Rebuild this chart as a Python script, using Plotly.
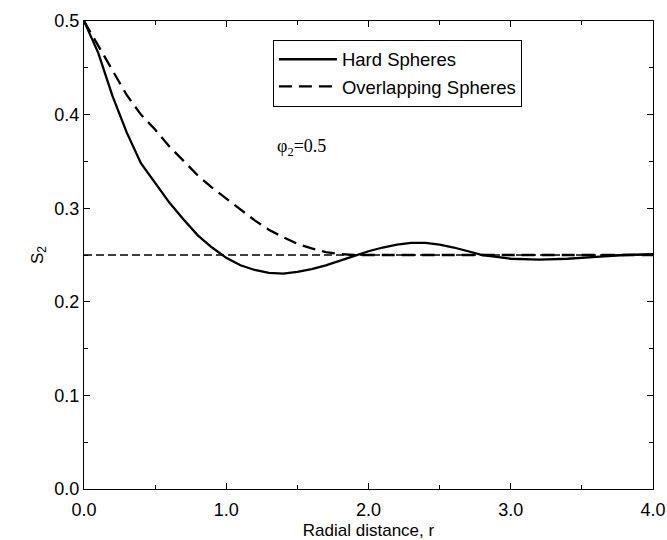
import plotly.graph_objects as go

# Hard spheres
r_hard = [0.0, 0.1, 0.2, 0.3, 0.4, 0.5, 0.6, 0.7, 0.8, 0.9, 1.0, 1.1, 1.2, 1.3, 1.4, 1.5,
          1.6, 1.7, 1.8, 1.9, 2.0, 2.1, 2.2, 2.3, 2.4, 2.5, 2.6, 2.7, 2.8, 2.9, 3.0,
          3.2, 3.4, 3.6, 3.8, 4.0]
s2_hard = [0.500, 0.466, 0.420, 0.381, 0.348, 0.327, 0.306, 0.288, 0.271, 0.258, 0.247,
           0.239, 0.234, 0.231, 0.230, 0.232, 0.235, 0.239, 0.244, 0.249, 0.254, 0.258,
           0.261, 0.263, 0.263, 0.261, 0.258, 0.254, 0.250, 0.248, 0.246,
           0.245, 0.246, 0.248, 0.250, 0.251]

# Overlapping spheres
r_over = [0.0, 0.1, 0.2, 0.3, 0.4, 0.5, 0.6, 0.7, 0.8, 0.9, 1.0, 1.1, 1.2, 1.3, 1.4,
          1.5, 1.6, 1.7, 1.8, 1.9, 2.0, 4.0]
s2_over = [0.500, 0.474, 0.447, 0.421, 0.400, 0.384, 0.366, 0.350, 0.335, 0.322, 0.310,
           0.298, 0.287, 0.277, 0.269, 0.262, 0.257, 0.253, 0.251, 0.250, 0.250, 0.250]

# Asymptote phi2^2
r_asym = [0.0, 4.0]
s2_asym = [0.25, 0.25]

FONT = "Liberation Sans, Arial"

fig = go.Figure()
fig.add_trace(go.Scatter(x=r_asym, y=s2_asym, mode="lines", showlegend=False,
                         line=dict(color="black", width=1.6, dash="8px,4px")))
fig.add_trace(go.Scatter(x=r_hard, y=s2_hard, mode="lines", name="Hard Spheres",
                         line=dict(color="black", width=2.3)))
fig.add_trace(go.Scatter(x=r_over, y=s2_over, mode="lines", name="Overlapping Spheres",
                         line=dict(color="black", width=2.3, dash="13px,7px")))

axis_common = dict(showline=True, linecolor="black", linewidth=1.2, mirror="ticks",
                   ticks="inside", ticklen=6, tickcolor="black", tickwidth=1,
                   showgrid=False, zeroline=False, automargin=False,
                   tickfont=dict(family=FONT, size=18, color="black"))

fig.update_xaxes(range=[0, 4], dtick=1, tickformat=".1f", ticklabelstandoff=4,
                 minor=dict(ticks="inside", dtick=0.5, ticklen=4, tickcolor="black"),
                 title=dict(text="Radial distance, r", standoff=6,
                            font=dict(family=FONT, size=17, color="black")),
                 **axis_common)
fig.update_yaxes(range=[0, 0.5], dtick=0.1, tickformat=".1f",
                 minor=dict(ticks="inside", dtick=0.05, ticklen=4, tickcolor="black"),
                 title=dict(text="S<sub>2</sub>", standoff=6,
                            font=dict(family=FONT, size=17, color="black")),
                 **axis_common)

fig.add_annotation(x=1.53, y=0.365, text="φ<sub>2</sub>=0.5", showarrow=False,
                   font=dict(family="Liberation Serif, Times New Roman", size=18, color="black"))

fig.update_layout(
    width=667, height=540,
    margin=dict(l=84, r=14, t=21, b=51),
    plot_bgcolor="white", paper_bgcolor="white",
    legend=dict(x=0.332, y=0.96, xanchor="left", yanchor="top",
                bordercolor="black", borderwidth=1, bgcolor="white",
                font=dict(family=FONT, size=18.5, color="black"),
                tracegroupgap=0, itemwidth=58),
)

fig.write_html("out.html")
